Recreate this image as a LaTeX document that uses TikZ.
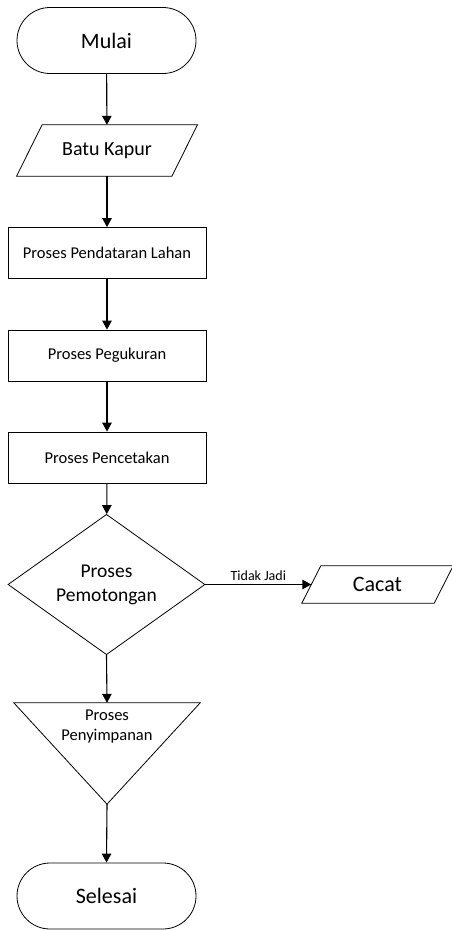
\documentclass[tikz,border=0pt]{standalone}
\usepackage{fontspec}
\setmainfont{Carlito}
\usetikzlibrary{shapes.misc,shapes.geometric,arrows.meta}

\begin{document}
\begin{tikzpicture}[x=1pt,y=-1pt,
  terminal/.style={rounded rectangle,draw=black,line width=0.8pt,minimum width=179pt,minimum height=66pt,inner sep=0,font=\fontsize{22}{26}\selectfont},
  procbox/.style={rectangle,draw=black,line width=0.8pt,minimum width=198pt,minimum height=51pt,inner sep=0,font=\fontsize{16.5}{20}\selectfont},
  iobox/.style={rectangle,inner sep=0,minimum height=51pt},
  decision/.style={diamond,draw=black,line width=0.8pt,minimum width=197pt,minimum height=103pt,inner sep=0,align=center,font=\fontsize{19.5}{24}\selectfont},
  outline/.style={draw=black,line width=0.8pt},
  arr/.style={line width=1.1pt,-{Triangle[length=9pt,width=9.5pt]}}]
  \useasboundingbox (0,0) rectangle (452,930);

  % start / input
  \node [terminal] (mulai) at (106.5,40.5) {Mulai};
  \node [iobox,minimum width=155pt,font=\fontsize{20}{24}\selectfont] (kapur) at (107,150.5) {Batu Kapur};
  \draw [outline] ([xshift=12.75pt]kapur.north west) -- ([xshift=12.75pt]kapur.north east)
    -- ([xshift=-12.75pt]kapur.south east) -- ([xshift=-12.75pt]kapur.south west) -- cycle;

  % process steps
  \node [procbox] (lahan) at (107,253) {Proses Pendataran Lahan};
  \node [procbox] (ukur) at (107,355.5) {Proses Pegukuran};
  \node [procbox] (cetak) at (107,457.5) {Proses Pencetakan};
  \node [decision] (potong) at (106.5,584.5) {Proses\\Pemotongan};

  % reject output
  \node [iobox,minimum width=132pt,minimum height=37pt,font=\fontsize{22}{26}\selectfont] (cacat) at (377.5,584.5) {Cacat};
  \draw [outline] ([xshift=9.5pt]cacat.north west) -- ([xshift=9.5pt]cacat.north east)
    -- ([xshift=-9.5pt]cacat.south east) -- ([xshift=-9.5pt]cacat.south west) -- cycle;

  % storage
  \node [rectangle,inner sep=0,minimum width=186pt,minimum height=101pt] (simpan) at (107,753.5) {};
  \draw [outline] (simpan.north west) -- (simpan.north east) -- (simpan.south) -- cycle;
  \node [align=center,inner sep=0,font=\fontsize{16.5}{20}\selectfont] (simpanText) at (107,727) {Proses\\Penyimpanan};

  \node [terminal] (selesai) at (106.5,896) {Selesai};

  % connectors
  \draw [arr] (mulai) -- (kapur);
  \draw [arr] (kapur) -- (lahan);
  \draw [arr] (lahan) -- (ukur);
  \draw [arr] (ukur) -- (cetak);
  \draw [arr] (cetak) -- (potong);
  \draw [arr] (potong.east) -- node [above=2pt,inner sep=1pt,font=\fontsize{14}{16}\selectfont] (tidak) {Tidak Jadi} (cacat.west);
  \draw [arr] (potong.south) -- (simpan.north);
  \draw [arr] (simpan.south) -- (selesai.north);
\end{tikzpicture}
\end{document}
